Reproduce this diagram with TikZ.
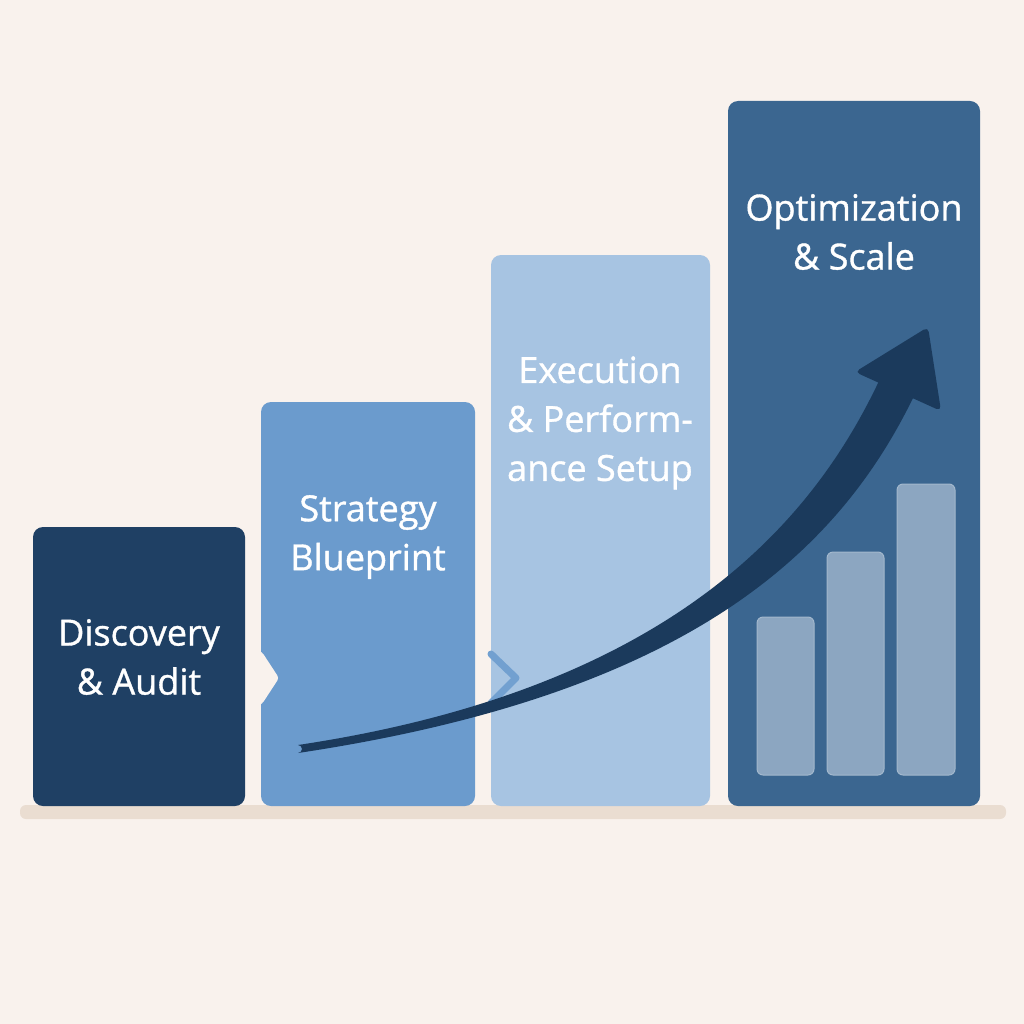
\documentclass[tikz,border=0pt]{standalone}
\usepackage{fontspec}
\setmainfont{Open Sans}
\newfontfamily\stepfont{Open Sans}[FakeBold=1]
\usepackage{tikz}
\usetikzlibrary{arrows}

\definecolor{paper}{HTML}{F9F2ED}
\definecolor{navy}{HTML}{1F4064}
\definecolor{midblue}{HTML}{6B9BCD}
\definecolor{paleblue}{HTML}{A7C4E2}
\definecolor{steelblue}{HTML}{3B6690}
\definecolor{greyblue}{HTML}{8CA6C1}
\definecolor{arrowblue}{HTML}{1B3A5C}
\definecolor{shelf}{HTML}{EADDD1}

\begin{document}
\begin{tikzpicture}[x=1pt,y=-1pt,
  bar node/.style={rectangle,rounded corners=10pt,inner sep=0pt,draw=none},
  mini node/.style={rectangle,rounded corners=6pt,inner sep=0pt,fill=greyblue,draw=greyblue!80!white,line width=1pt},
  label node/.style={align=center,text=white,font=\stepfont\fontsize{36}{49}\selectfont}]
  \useasboundingbox[fill=paper] (0,0) rectangle (1024,1024);

  % shelf under the steps
  \fill[shelf,rounded corners=6pt] (20,805) rectangle (1006,819);

  % the four steps
  \node[bar node,fill=navy,minimum width=212pt,minimum height=279pt]      (discovery) at (139,666.5) {};
  \node[bar node,fill=midblue,minimum width=214pt,minimum height=404pt]   (strategy)  at (368,604) {};
  \node[bar node,fill=paleblue,minimum width=219pt,minimum height=551pt]  (execution) at (600.5,530.5) {};
  \node[bar node,fill=steelblue,minimum width=252pt,minimum height=705pt] (optim)     at (854,453.5) {};

  % small chart inside the last step
  \node[mini node,minimum width=57pt,minimum height=158pt] (chart1) at (785.5,696) {};
  \node[mini node,minimum width=57pt,minimum height=223pt] (chart2) at (855.5,663.5) {};
  \node[mini node,minimum width=58pt,minimum height=291pt] (chart3) at (926,629.5) {};

  % chevrons between steps
  \fill[paper,rounded corners=3pt] (255,649) -- (262,652) -- (279,678) -- (262,704) -- (255,707) -- cycle;
  \draw[midblue!95!white,line width=7pt,line cap=round,line join=round] (491,654) -- (516,678) -- (491,703);

  % labels
  \node[label node] (l1) at (139,657) {Discovery\\\& Audit};
  \node[label node] (l2) at (368,537) {Strategy\\Blueprint};
  \node[label node] (l3) at (600,423) {Execution\\\& Perform-\\ance Setup};
  \node[label node] (l4) at (854,232) {Optimization\\\& Scale};

  % rising arrow
  \fill[arrowblue] (298,745) .. controls (678,688) and (815,516) .. (879,381)
    -- (913,398) .. controls (834,560) and (678,696) .. (298,753)
    arc[start angle=90,end angle=270,radius=-4pt] -- cycle;
  \fill[arrowblue,rounded corners=5pt] (855,372) -- (928,327) -- (941,411) -- cycle;
\end{tikzpicture}
\end{document}
